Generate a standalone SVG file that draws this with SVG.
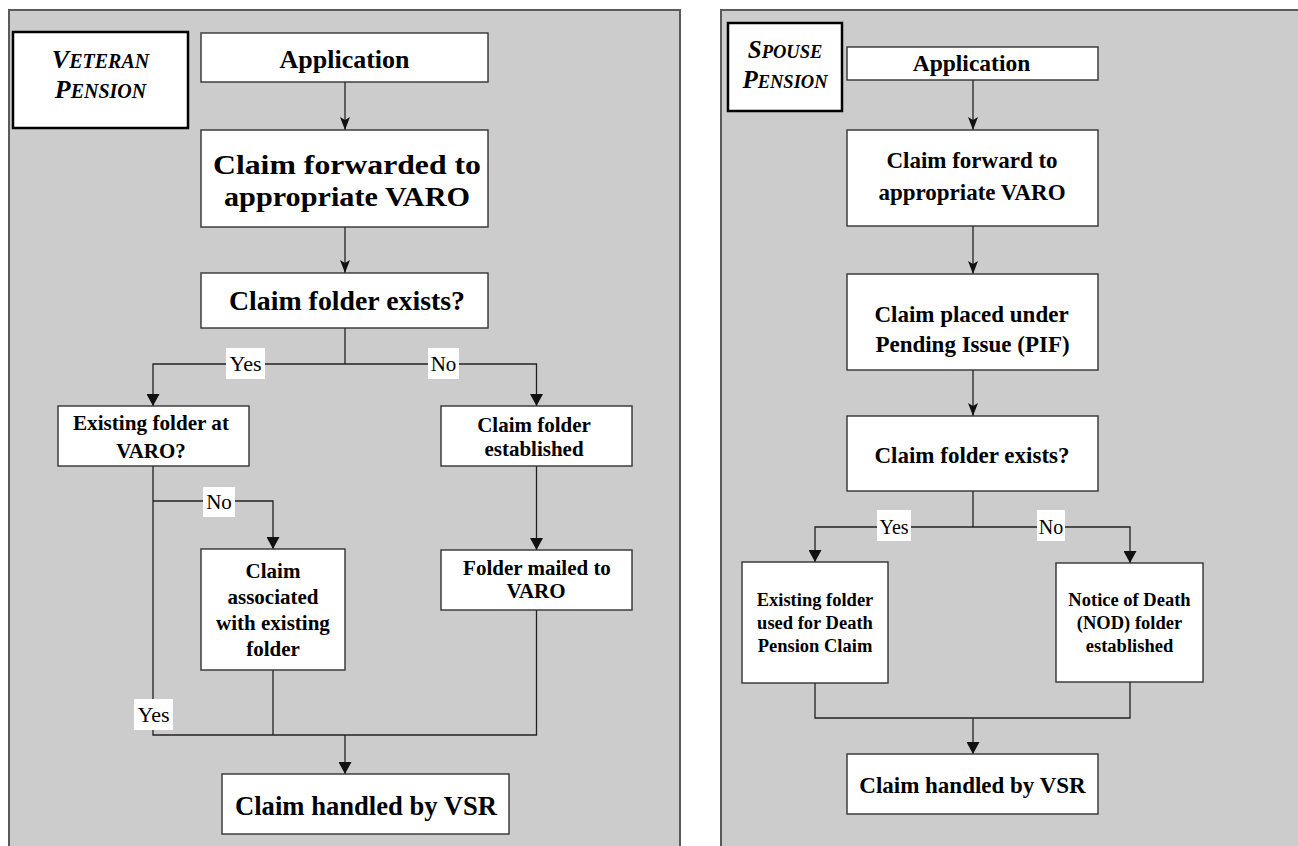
<svg xmlns="http://www.w3.org/2000/svg" width="1298" height="846" viewBox="0 0 1298 846">
<style>
.panel{fill:#cccccc;stroke:#5a5a5a;stroke-width:2}
.box{fill:#fff;stroke:#333;stroke-width:1.4}
.title{fill:#fff;stroke:#000;stroke-width:2.5}
.t{font-family:"Liberation Serif","Times New Roman",serif;font-weight:bold;fill:#000;text-anchor:middle}
.ti{font-style:italic}
.lbl{font-family:"Liberation Serif","Times New Roman",serif;font-weight:normal;fill:#000;text-anchor:middle}
.c{fill:none;stroke:#222;stroke-width:1.3}
.lb{fill:#fff}
</style>
<defs>
<marker id="as" markerUnits="userSpaceOnUse" viewBox="0 0 13 10" refX="13" refY="5" markerWidth="13" markerHeight="10" orient="auto"><path d="M0,0 L13,5 L0,10 L3,5 z" fill="#111"/></marker>
<marker id="ab" markerUnits="userSpaceOnUse" viewBox="0 0 12 13" refX="12" refY="6.5" markerWidth="12" markerHeight="13" orient="auto"><path d="M0,0 L12,6.5 L0,13 z" fill="#111"/></marker>
</defs>

<g id="panels">
<rect class="panel" x="9" y="10" width="671" height="860"/>
<rect class="panel" x="721" y="10" width="620" height="860"/>
</g>

<g id="connectors">
<line class="c" x1="345" y1="82" x2="345" y2="130" marker-end="url(#as)"/>
<line class="c" x1="345" y1="227" x2="345" y2="273" marker-end="url(#as)"/>
<polyline class="c" points="345,328 345,364"/>
<polyline class="c" points="345,364 153,364 153,406" marker-end="url(#ab)"/>
<polyline class="c" points="345,364 536.5,364 536.5,406" marker-end="url(#ab)"/>
<polyline class="c" points="153,466 153,735 345,735"/>
<polyline class="c" points="153,501 273,501 273,549" marker-end="url(#ab)"/>
<line class="c" x1="536.5" y1="466" x2="536.5" y2="550" marker-end="url(#ab)"/>
<polyline class="c" points="273,670 273,735"/>
<polyline class="c" points="536.5,610 536.5,735 345,735"/>
<line class="c" x1="345" y1="735" x2="345" y2="774" marker-end="url(#ab)"/>
<rect class="lb" x="226" y="348" width="39" height="31"/>
<text class="lbl" x="245.5" y="371" font-size="22">Yes</text>
<rect class="lb" x="428" y="348" width="31" height="31"/>
<text class="lbl" x="443.5" y="371" font-size="21">No</text>
<rect class="lb" x="203" y="487" width="32" height="30"/>
<text class="lbl" x="219" y="509" font-size="21">No</text>
<rect class="lb" x="134" y="699" width="39" height="31"/>
<text class="lbl" x="153.5" y="722" font-size="22">Yes</text>
<line class="c" x1="973" y1="80" x2="973" y2="130" marker-end="url(#as)"/>
<line class="c" x1="973" y1="226" x2="973" y2="274" marker-end="url(#as)"/>
<line class="c" x1="973" y1="370" x2="973" y2="416" marker-end="url(#as)"/>
<polyline class="c" points="973,491 973,527"/>
<polyline class="c" points="973,527 815,527 815,562" marker-end="url(#ab)"/>
<polyline class="c" points="973,527 1130,527 1130,563" marker-end="url(#ab)"/>
<polyline class="c" points="815,683 815,718 1130,718 1130,682"/>
<line class="c" x1="973" y1="718" x2="973" y2="754" marker-end="url(#ab)"/>
<rect class="lb" x="877" y="510" width="34" height="31"/>
<text class="lbl" x="894" y="534" font-size="20">Yes</text>
<rect class="lb" x="1037" y="510" width="28" height="31"/>
<text class="lbl" x="1051" y="534" font-size="20">No</text>
</g>

<g id="veteran-title">
<rect class="title" x="13" y="32" width="175" height="96"/>
<text class="t ti" x="100.5" y="68"><tspan font-size="26">V</tspan><tspan font-size="20">ETERAN</tspan></text>
<text class="t ti" x="100.5" y="98"><tspan font-size="26">P</tspan><tspan font-size="20">ENSION</tspan></text>
</g>
<g id="v-application">
<rect class="box" x="201" y="33" width="287" height="49"/>
<text class="t" x="344.5" y="68" font-size="26">Application</text>
</g>
<g id="v-forwarded">
<rect class="box" x="201" y="130" width="287" height="97"/>
<text class="t" x="347" y="174" font-size="27.5" textLength="268" lengthAdjust="spacingAndGlyphs">Claim forwarded to</text>
<text class="t" x="347" y="206" font-size="27.5" textLength="246" lengthAdjust="spacingAndGlyphs">appropriate VARO</text>
</g>
<g id="v-folder-exists">
<rect class="box" x="201" y="273" width="287" height="55"/>
<text class="t" x="347" y="310" font-size="27.5" textLength="236" lengthAdjust="spacingAndGlyphs">Claim folder exists?</text>
</g>
<g id="v-existing-at-varo">
<rect class="box" x="58" y="406" width="191" height="60"/>
<text class="t" x="151" y="430" font-size="21" textLength="156" lengthAdjust="spacingAndGlyphs">Existing folder at</text>
<text class="t" x="151" y="458" font-size="21">VARO?</text>
</g>
<g id="v-folder-established">
<rect class="box" x="441" y="406" width="191" height="60"/>
<text class="t" x="534" y="432" font-size="21">Claim folder</text>
<text class="t" x="534" y="456" font-size="21">established</text>
</g>
<g id="v-associated">
<rect class="box" x="201" y="549" width="144" height="121"/>
<text class="t" x="273" y="578" font-size="21">Claim</text>
<text class="t" x="273" y="604" font-size="21">associated</text>
<text class="t" x="273" y="630" font-size="21">with existing</text>
<text class="t" x="273" y="656" font-size="21">folder</text>
</g>
<g id="v-mailed">
<rect class="box" x="441" y="550" width="191" height="60"/>
<text class="t" x="537" y="575" font-size="21">Folder mailed to</text>
<text class="t" x="536" y="598" font-size="21">VARO</text>
</g>
<g id="v-handled">
<rect class="box" x="222" y="774" width="287" height="60"/>
<text class="t" x="366" y="815" font-size="26.5" textLength="262" lengthAdjust="spacingAndGlyphs">Claim handled by VSR</text>
</g>

<g id="spouse-title">
<rect class="title" x="728" y="23" width="114" height="88"/>
<text class="t ti" x="785" y="58"><tspan font-size="25">S</tspan><tspan font-size="18.5">POUSE</tspan></text>
<text class="t ti" x="785" y="88"><tspan font-size="25">P</tspan><tspan font-size="18.5">ENSION</tspan></text>
</g>
<g id="s-application">
<rect class="box" x="847" y="47" width="251" height="33"/>
<text class="t" x="971.5" y="71" font-size="23.5">Application</text>
</g>
<g id="s-forward">
<rect class="box" x="847" y="130" width="251" height="96"/>
<text class="t" x="972" y="168" font-size="23">Claim forward to</text>
<text class="t" x="972" y="200" font-size="23">appropriate VARO</text>
</g>
<g id="s-pif">
<rect class="box" x="847" y="274" width="251" height="96"/>
<text class="t" x="971.5" y="322" font-size="23">Claim placed under</text>
<text class="t" x="972.5" y="352" font-size="23">Pending Issue (PIF)</text>
</g>
<g id="s-folder-exists">
<rect class="box" x="847" y="416" width="251" height="75"/>
<text class="t" x="972" y="463" font-size="23">Claim folder exists?</text>
</g>
<g id="s-existing-used">
<rect class="box" x="742" y="562" width="146" height="121"/>
<text class="t" x="815" y="606" font-size="18.5">Existing folder</text>
<text class="t" x="815" y="629" font-size="18.5">used for Death</text>
<text class="t" x="815" y="652" font-size="18.5">Pension Claim</text>
</g>
<g id="s-nod">
<rect class="box" x="1056" y="563" width="147" height="119"/>
<text class="t" x="1129.5" y="606" font-size="18.5">Notice of Death</text>
<text class="t" x="1129.5" y="629" font-size="18.5">(NOD) folder</text>
<text class="t" x="1129.5" y="652" font-size="18.5">established</text>
</g>
<g id="s-handled">
<rect class="box" x="847" y="754" width="251" height="60"/>
<text class="t" x="972.5" y="793" font-size="23">Claim handled by VSR</text>
</g>
</svg>
